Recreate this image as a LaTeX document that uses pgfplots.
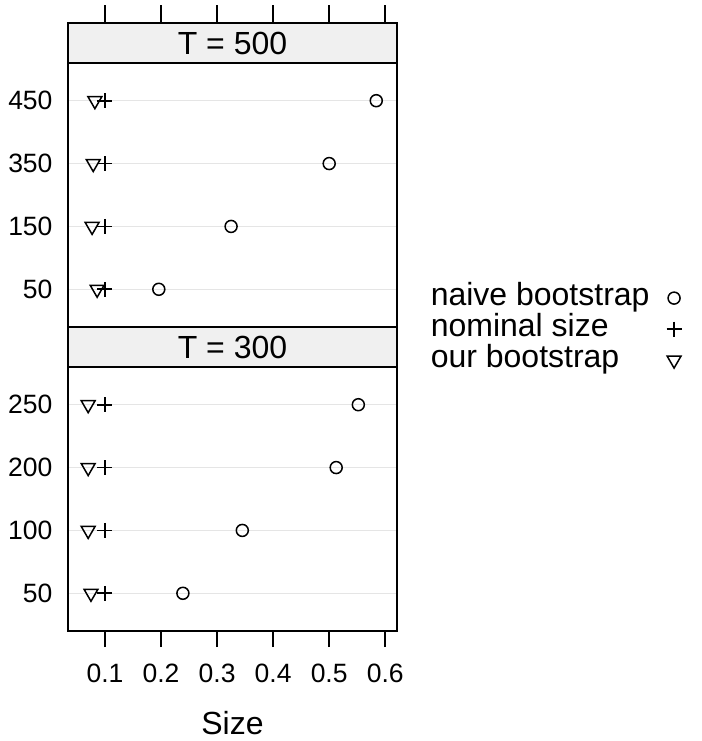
\documentclass[border=0pt]{standalone}
\usepackage{fontspec}
\setmainfont{Liberation Sans}
\usepackage{pgfplots}
\pgfplotsset{compat=1.18}
\begin{document}
\begin{tikzpicture}
\pgfplotsset{
 panel/.style={
  scale only axis, width=329pt, height=264pt,
  xmin=0.034, xmax=0.621, ymin=0.4, ymax=4.6,
  clip=false,
  axis line style={line width=1.5pt},
  ytick={1,2,3,4},
  ymajorgrids, grid style={black!10, line width=1.3pt},
  ytick style={draw=none},
  xtick={0.1,0.2,0.3,0.4,0.5,0.6},
  ticklabel style={font=\fontsize{26.5}{30}\selectfont},
  xticklabel style={/pgf/number format/fixed,/pgf/number format/precision=1,/pgf/number format/fixed zerofill},
  /pgf/number format/assume math mode=true,
 },
 naive/.style={only marks, mark=o, mark size=6pt, line width=1.5pt, black},
 nomin/.style={only marks, mark=+, mark size=7.5pt, line width=1.6pt, black},
 ours/.style={only marks, mark=triangle, mark size=8pt, mark options={rotate=180}, line width=1.5pt, black},
}
% bottom panel: T = 300
\begin{axis}[panel, at={(0,0)}, anchor=south west,
  yticklabels={50,100,200,250},
  yticklabel style={xshift=4pt},
  xtick pos=bottom, tick align=outside, major tick length=16pt,
  xtick style={line width=1.5pt, black},
  xlabel={Size}, xlabel style={font=\fontsize{32}{38}\selectfont, yshift=-22pt},
  xticklabel style={yshift=-13pt}]
\addplot[naive] coordinates {(0.239,1) (0.345,2) (0.5125,3) (0.552,4)};
\addplot[nomin] coordinates {(0.1,1) (0.1,2) (0.1,3) (0.1,4)};
\addplot[ours] coordinates {(0.075,1) (0.070,2) (0.070,3) (0.070,4)};
\draw[line width=1.5pt, fill=black!6] (rel axis cs:0,1) rectangle ([yshift=40pt]rel axis cs:1,1);
\node[font=\fontsize{32}{38}\selectfont] at ([yshift=20pt]rel axis cs:0.5,1) {T = 300};
\end{axis}
% top panel: T = 500
\begin{axis}[panel, at={(0,304pt)}, anchor=south west,
  yticklabels={50,150,350,450},
  yticklabel style={xshift=-12pt},
  xticklabels={}, xtick style={draw=none},
  legend plot pos=right, legend cell align=left,
  legend style={draw=none, fill=none, at={(rel axis cs:1.099,-0.008)}, anchor=west,
    font=\fontsize{32}{38}\selectfont, inner sep=0pt, row sep=0pt, column sep=16pt,
    nodes={inner sep=1pt, text height=22pt, text depth=7pt}}]
\addplot[naive] coordinates {(0.196,1) (0.325,2) (0.500,3) (0.584,4)};
\addlegendentry{naive bootstrap}
\addplot[nomin] coordinates {(0.1,1) (0.1,2) (0.1,3) (0.1,4)};
\addlegendentry{nominal size}
\addplot[ours] coordinates {(0.086,1) (0.077,2) (0.079,3) (0.082,4)};
\addlegendentry{our bootstrap}
\draw[line width=1.5pt, fill=black!6] (rel axis cs:0,1) rectangle ([yshift=40pt]rel axis cs:1,1);
\node[font=\fontsize{32}{38}\selectfont] at ([yshift=20pt]rel axis cs:0.5,1) {T = 500};
\pgfplotsinvokeforeach{0.1,0.2,0.3,0.4,0.5,0.6}{
  \draw[line width=1.5pt] ([yshift=40pt]axis cs:#1,4.6) -- ([yshift=58pt]axis cs:#1,4.6);
}
\end{axis}
\path (-68pt,-110pt) rectangle (633pt,631pt);
\end{tikzpicture}
\end{document}
